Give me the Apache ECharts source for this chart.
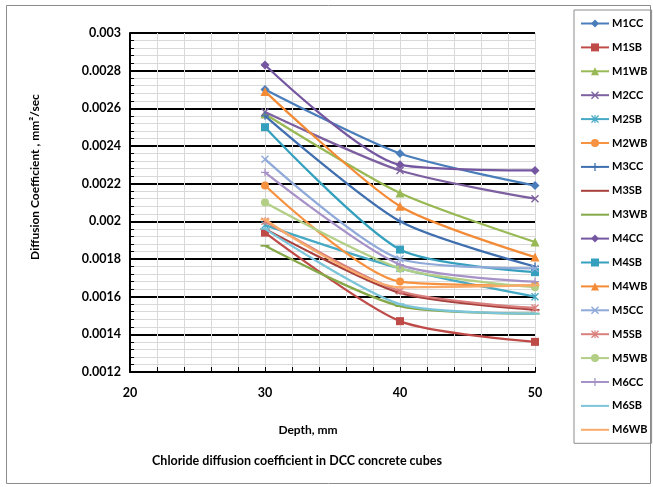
<!DOCTYPE html>
<html><head><meta charset="utf-8">
<script src="https://cdn.jsdelivr.net/npm/echarts@6/dist/echarts.min.js"></script>
<style>html,body{margin:0;padding:0;background:#fff}#c{width:653px;height:487px}</style>
</head><body><div id="c"></div>
<script>
var depths = [30, 40, 50];
var seriesNames = ['M1CC','M1SB','M1WB','M2CC','M2SB','M2WB','M3CC','M3SB','M3WB','M4CC','M4SB','M4WB','M5CC','M5SB','M5WB','M6CC','M6SB','M6WB'];
var M1CC = [0.00270, 0.00236, 0.00219];
var M1SB = [0.00194, 0.00147, 0.00136];
var M1WB = [0.00257, 0.00215, 0.00189];
var M2CC = [0.00258, 0.00227, 0.00212];
var M2SB = [0.00198, 0.00175, 0.00160];
var M2WB = [0.00219, 0.00168, 0.00166];
var M3CC = [0.00256, 0.00200, 0.00176];
var M3SB = [0.00196, 0.00162, 0.00153];
var M3WB = [0.00187, 0.00155, 0.00151];
var M4CC = [0.00283, 0.00230, 0.00227];
var M4SB = [0.00250, 0.00185, 0.00173];
var M4WB = [0.00269, 0.00208, 0.00181];
var M5CC = [0.00233, 0.00180, 0.00175];
var M5SB = [0.00200, 0.00163, 0.00154];
var M5WB = [0.00210, 0.00175, 0.00165];
var M6CC = [0.00226, 0.00177, 0.00168];
var M6SB = [0.00196, 0.00156, 0.00151];
var M6WB = [0.00201, 0.00165, 0.00166];
var values = [M1CC,M1SB,M1WB,M2CC,M2SB,M2WB,M3CC,M3SB,M3WB,M4CC,M4SB,M4WB,M5CC,M5SB,M5WB,M6CC,M6SB,M6WB];
var xTicks = [20, 30, 40, 50];
var yMin = 0.0012, yMax = 0.003, yStep = 0.0002;

var colors = ['#4A7EBB','#BE4B48','#98B954','#7D60A0','#46AAC5','#F69240',
              '#3F6FAE','#A8403D','#86A848','#7457A0','#35A0BE','#F38A35',
              '#8FA9D9','#D9807E','#B3CF86','#A692C6','#7CC4D9','#F9AB6B'];
var X = 'path://M0,1.2 L1.2,0 L5,3.8 L8.8,0 L10,1.2 L6.2,5 L10,8.8 L8.8,10 L5,6.2 L1.2,10 L0,8.8 L3.8,5 Z';
var PLUS = 'path://M4.2,0 H5.8 V4.2 H10 V5.8 H5.8 V10 H4.2 V5.8 H0 V4.2 H4.2 Z';
var STAR = 'path://M0,1.2 L1.2,0 L5,3.8 L8.8,0 L10,1.2 L6.2,5 L10,8.8 L8.8,10 L5,6.2 L1.2,10 L0,8.8 L3.8,5 Z M4.3,0 H5.7 V10 H4.3 Z';
var DASH = 'path://M0,0 H10 V2 H0 Z';
var LEGLINE = 'path://M0,0 H28 V2 H0 Z';
var symbols = ['diamond','rect','triangle',X,STAR,'circle',PLUS,DASH,DASH,
               'diamond','rect','triangle',X,STAR,'circle',PLUS,DASH,DASH];
var sizes = [9,8,9,8,8,8,8,9,9,9,8,9,8,8,8,8,9,9];

var series = seriesNames.map(function(n, i){
  return {
    name: n, type: 'line', smooth: 0.25,
    data: depths.map(function(d, j){ return [d, values[i][j]]; }),
    symbol: symbols[i], symbolSize: sizes[i], showAllSymbol: true,
    symbolKeepAspect: true,
    lineStyle: {width: 2.25, color: colors[i]},
    itemStyle: {color: colors[i], borderWidth: 0},
    emphasis: {disabled: true}, z: 2 + i
  };
});
var legendData = seriesNames.map(function(n, i){
  return symbols[i] === DASH ? {name: n, icon: LEGLINE} : {name: n};
});

var font = 'Lato, "Liberation Sans", sans-serif';
var chart = echarts.init(document.getElementById('c'), null, {renderer: 'canvas'});
chart.setOption({
  animation: false,
  color: colors,
  grid: {left: 130, right: 118, top: 33, bottom: 115, containLabel: false},
  xAxis: {
    type: 'value', min: xTicks[0], max: xTicks[xTicks.length-1], interval: 10,
    axisLine: {show: true, onZero: false, lineStyle: {color: '#000', width: 2}},
    axisTick: {show: true, inside: true, length: 5, lineStyle: {color: '#000', width: 1}},
    minorTick: {show: true, splitNumber: 5, length: 5, lineStyle: {color: '#000', width: 1}},
    splitLine: {show: true, lineStyle: {color: '#d9d9d9', width: 1}},
    minorSplitLine: {show: true, lineStyle: {color: '#d9d9d9', width: 1}},
    axisLabel: {color: '#000', fontFamily: font, fontWeight: 'bold', fontSize: 12.5, margin: 14}
  },
  yAxis: {
    type: 'value', min: yMin, max: yMax, interval: yStep,
    axisLine: {show: true, onZero: false, lineStyle: {color: '#000', width: 2}},
    axisTick: {show: true, inside: true, length: 4, lineStyle: {color: '#000', width: 1}},
    minorTick: {show: true, splitNumber: 5, length: 4, lineStyle: {color: '#000', width: 1}},
    splitLine: {show: true, lineStyle: {color: '#000', width: 2}},
    minorSplitLine: {show: true, lineStyle: {color: '#d9d9d9', width: 1}},
    axisLabel: {color: '#000', fontFamily: font, fontWeight: 'bold', fontSize: 12.5, margin: 9,
      formatter: function(v){ return String(+v.toFixed(5)); }}
  },
  legend: {
    orient: 'vertical', left: 574, top: 10, width: 67,
    padding: [8, 4, 8, 6], itemGap: 12.9, itemWidth: 28, itemHeight: 10,
    borderColor: '#8c8c8c', borderWidth: 1,
    textStyle: {color: '#000', fontFamily: font, fontWeight: 'bold', fontSize: 11, padding: [0,0,0,-2]},
    data: legendData
  },
  graphic: [
    {type: 'rect', left: 4, top: 3, shape: {width: 644, height: 478}, style: {fill: 'none', stroke: '#8c8c8c', lineWidth: 1}, silent: true, z: -10},
    {type: 'text', x: 35, y: 177, rotation: Math.PI/2, style: {text: 'Diffusion Coefficient , mm²/sec', fill: '#000', font: 'bold 12px ' + font, textAlign: 'center', textVerticalAlign: 'middle'}},
    {type: 'text', x: 308, y: 430, style: {text: 'Depth, mm', fill: '#000', font: 'bold 12px ' + font, textAlign: 'center', textVerticalAlign: 'middle'}},
    {type: 'text', x: 297, y: 461, style: {text: 'Chloride diffusion coefficient in DCC concrete cubes', fill: '#000', font: 'bold 12.5px ' + font, textAlign: 'center', textVerticalAlign: 'middle'}}
  ],
  series: series
});
</script></body></html>
